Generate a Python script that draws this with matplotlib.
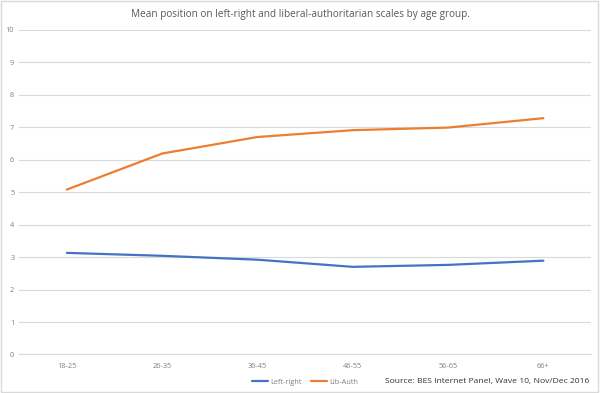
import matplotlib
matplotlib.use("Agg")
import matplotlib.pyplot as plt
from matplotlib.patches import Rectangle

age_groups = ["18-25", "26-35", "36-45", "46-55", "56-65", "66+"]
left_right = [3.13, 3.04, 2.92, 2.70, 2.76, 2.89]
lib_auth = [5.08, 6.19, 6.70, 6.91, 6.99, 7.28]

BLUE = "#4472C4"
ORANGE = "#ED7D31"
GRID = "#d9d9d9"
TICK = "#808080"

plt.rcParams["font.family"] = ["Open Sans", "DejaVu Sans"]

fig = plt.figure(figsize=(6.0, 3.93), dpi=100)
ax = fig.add_axes([0.032, 0.098, 0.953, 0.826])

x = list(range(len(age_groups)))
ax.plot(x, left_right, color=BLUE, lw=1.6, label="Left-right", solid_capstyle="round")
ax.plot(x, lib_auth, color=ORANGE, lw=1.6, label="Lib-Auth", solid_capstyle="round")

ax.set_xlim(-0.5, len(age_groups) - 0.5)
ax.set_ylim(0, 10)
ax.set_yticks(range(0, 11))
ax.set_xticks(x)
ax.set_xticklabels(age_groups)
ax.grid(axis="y", color=GRID, lw=0.8)
ax.set_axisbelow(True)
for s in ["top", "right", "left"]:
    ax.spines[s].set_visible(False)
ax.spines["bottom"].set_color(GRID)
ax.tick_params(axis="both", length=0, labelsize=5.3, labelcolor=TICK)
ax.tick_params(axis="x", pad=6)
ax.tick_params(axis="y", pad=3.5)

fig.text(0.5, 0.963, "Mean position on left-right and liberal-authoritarian scales by age group.",
         ha="center", va="center", fontsize=7.2, color="#595959")

ax.legend(loc="center", bbox_to_anchor=(0.5, -0.085), ncol=2, frameon=False,
          fontsize=5.3, labelcolor=TICK, handlelength=2.2, handletextpad=0.3, columnspacing=1.2,
          bbox_transform=ax.transAxes)

fig.text(0.983, 0.03, "Source: BES Internet Panel, Wave 10, Nov/Dec 2016",
         ha="right", va="center", fontsize=6.1, color="#333333")

fig.patches.append(Rectangle((0.002, 0.003), 0.995, 0.994, transform=fig.transFigure,
                             fill=False, edgecolor="#d9d9d9", lw=1))

fig.savefig("out.png", dpi=100)
